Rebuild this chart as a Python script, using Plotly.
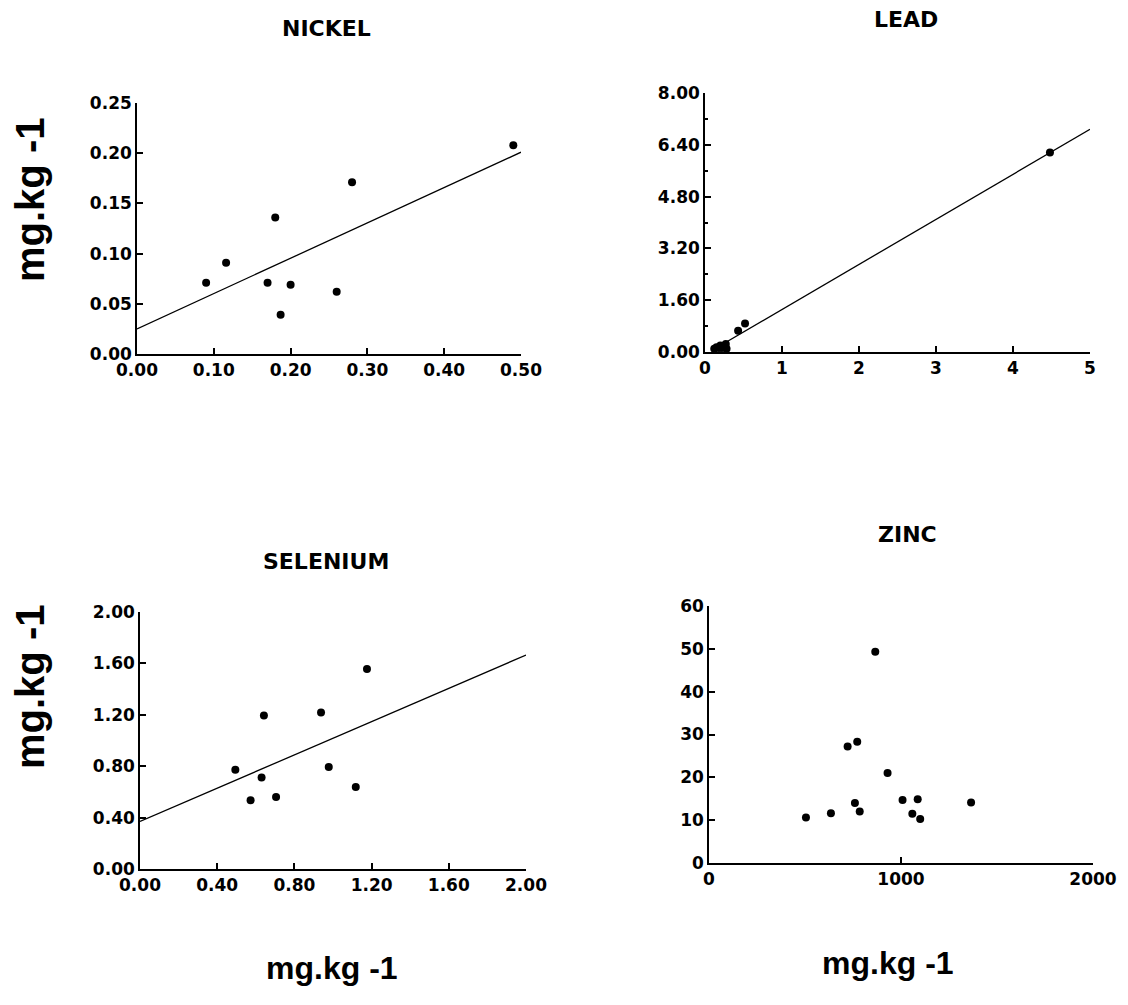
import plotly.graph_objects as go

W, H = 1128, 1005

# ---- data ----
nickel_x = [0.090, 0.116, 0.170, 0.180, 0.187, 0.200, 0.260, 0.280, 0.490]
nickel_y = [0.071, 0.091, 0.071, 0.136, 0.039, 0.069, 0.062, 0.171, 0.208]
nickel_fit_x = [0.0, 0.50]
nickel_fit_y = [0.025, 0.201]

lead_x = [0.12, 0.15, 0.18, 0.20, 0.22, 0.25, 0.27, 0.28, 0.43, 0.52, 4.48]
lead_y = [0.10, 0.15, 0.12, 0.20, 0.12, 0.18, 0.25, 0.10, 0.66, 0.88, 6.16]
lead_fit_x = [0.10, 5.0]
lead_fit_y = [0.06, 6.88]

selenium_x = [0.494, 0.573, 0.630, 0.642, 0.705, 0.938, 0.978, 1.118, 1.176]
selenium_y = [0.773, 0.535, 0.713, 1.194, 0.560, 1.217, 0.793, 0.638, 1.556]
selenium_fit_x = [0.0, 2.0]
selenium_fit_y = [0.37, 1.665]

zinc_x = [505, 635, 722, 760, 772, 785, 866, 930, 1008, 1059, 1087, 1100, 1365]
zinc_y = [10.6, 11.6, 27.2, 14.0, 28.3, 12.0, 49.3, 21.0, 14.7, 11.5, 14.9, 10.3, 14.1]

titles = ["NICKEL", "LEAD", "SELENIUM", "ZINC"]
unit_label = "mg.kg -1"

nickel_ticks = [0.0, 0.10, 0.20, 0.30, 0.40, 0.50]
nickel_yticks = [0.0, 0.05, 0.10, 0.15, 0.20, 0.25]
lead_ticks = [0, 1, 2, 3, 4, 5]
lead_yticks = [0.0, 1.6, 3.2, 4.8, 6.4, 8.0]
selenium_ticks = [0.0, 0.4, 0.8, 1.2, 1.6, 2.0]
zinc_ticks = [0, 1000, 2000]
zinc_yticks = [0, 10, 20, 30, 40, 50, 60]

TICKFONT = "DejaVu Sans, Liberation Sans, sans-serif"
TITLEFONT = "DejaVu Sans, Liberation Sans, sans-serif"
LABELFONT = "Liberation Sans, Arial, sans-serif"

def px_dom(a, b, total, flip=False):
    if flip:
        return [1 - b / total, 1 - a / total]
    return [a / total, b / total]

fig = go.Figure()

panels = [
    (nickel_x, nickel_y, nickel_fit_x, nickel_fit_y, "", (137, 521), (103, 354), [0, 0.5], [0, 0.25],
     nickel_ticks, nickel_yticks, ".2f", ".2f", None),
    (lead_x, lead_y, lead_fit_x, lead_fit_y, "2", (705, 1090), (93, 352), [0, 5], [0, 8],
     lead_ticks, lead_yticks, "d", ".2f", 0.8),
    (selenium_x, selenium_y, selenium_fit_x, selenium_fit_y, "3", (140, 526), (612, 869), [0, 2], [0, 2],
     selenium_ticks, selenium_ticks, ".2f", ".2f", None),
    (zinc_x, zinc_y, None, None, "4", (709, 1093), (606, 863), [0, 2000], [0, 60],
     zinc_ticks, zinc_yticks, "d", "d", None),
]

for xs, ys, fx, fy, s, xd, yd, xr, yr, xt, yt, xf, yf, ymin in panels:
    xa = "x" + s
    ya = "y" + s
    fig.add_trace(go.Scatter(x=xs, y=ys, mode="markers", xaxis=xa, yaxis=ya,
                             marker=dict(color="black", size=8), showlegend=False,
                             cliponaxis=False))
    if fx is not None:
        fig.add_trace(go.Scatter(x=fx, y=fy, mode="lines", xaxis=xa, yaxis=ya,
                                 line=dict(color="black", width=1.3), showlegend=False))
    axcommon = dict(showgrid=False, zeroline=False, showline=True, linecolor="black",
                    linewidth=1.6, ticks="inside", ticklen=6, tickcolor="black", tickwidth=1.5,
                    automargin=False,
                    tickfont=dict(family=TICKFONT, size=17, color="black", weight="bold"))
    fig.layout["xaxis" + s] = dict(domain=px_dom(*xd, W), range=xr, anchor=ya,
                                   tickvals=xt, ticktext=[format(v, xf) for v in xt], **axcommon)
    ydict = dict(domain=px_dom(*yd, H, flip=True), range=yr, anchor=xa,
                 tickvals=yt, ticktext=[format(v, yf) for v in yt], **axcommon)
    if ymin is not None:
        ydict["minor"] = dict(ticks="inside", ticklen=3, tickcolor="black", dtick=ymin, tick0=0)
    fig.layout["yaxis" + s] = ydict

ann = []
title_pos = [(326, 28), (906, 19), (326, 561), (907, 534)]
for t, (x, y) in zip(titles, title_pos):
    ann.append(dict(text=t, x=x / W, y=1 - y / H, xref="paper", yref="paper", showarrow=False,
                    xanchor="center", yanchor="middle",
                    font=dict(family=TITLEFONT, size=22, color="black", weight="bold")))
for (x, y) in [(30, 200), (30, 687)]:
    ann.append(dict(text=unit_label, x=x / W, y=1 - y / H, xref="paper", yref="paper", showarrow=False,
                    textangle=-90, xanchor="center", yanchor="middle",
                    font=dict(family=LABELFONT, size=40, color="black", weight="bold")))
for (x, y) in [(332, 968), (888, 963)]:
    ann.append(dict(text=unit_label, x=x / W, y=1 - y / H, xref="paper", yref="paper", showarrow=False,
                    xanchor="center", yanchor="middle",
                    font=dict(family=LABELFONT, size=32, color="black", weight="bold")))

fig.update_layout(width=W, height=H, margin=dict(l=0, r=0, t=0, b=0, autoexpand=False),
                  template="none",
                  paper_bgcolor="white", plot_bgcolor="white", annotations=ann)

fig.write_html("out.html")
